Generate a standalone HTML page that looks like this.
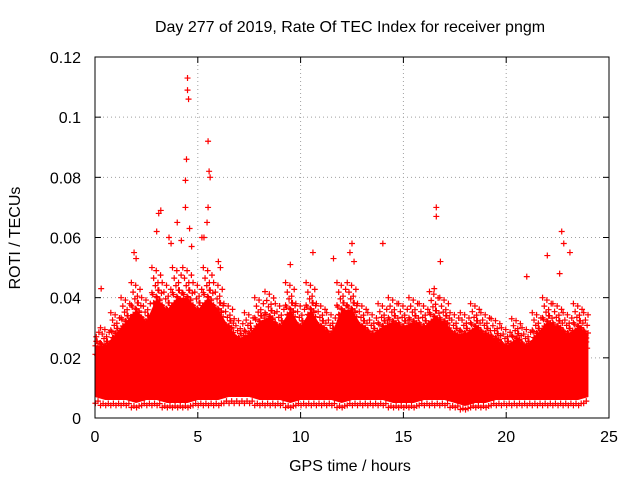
<!DOCTYPE html>
<html><head><meta charset="utf-8"><style>
body{margin:0;background:#fff}
svg{display:block;font-family:"Liberation Sans",sans-serif}
</style></head><body>
<svg id="c" width="640" height="480"></svg>
<script>
const xTicks=[0,5,10,15,20,25];
const yTicks=[0,0.02,0.04,0.06,0.08,0.1,0.12];
const yTickLabels=["0","0.02","0.04","0.06","0.08","0.1","0.12"];
const bandTimes=[0,0.5,1,1.5,2,2.5,3,3.5,4,4.5,5,5.5,6,6.5,7,7.5,8,8.5,9,9.5,10,10.5,11,11.5,12,12.5,13,13.5,14,14.5,15,15.5,16,16.5,17,17.5,18,18.5,19,19.5,20,20.5,21,21.5,22,22.5,23,23.5,24];
const bandUpper=[0.03,0.03,0.035,0.04,0.045,0.04,0.05,0.045,0.05,0.05,0.045,0.05,0.045,0.038,0.033,0.035,0.04,0.042,0.038,0.045,0.038,0.045,0.038,0.035,0.045,0.045,0.038,0.035,0.038,0.04,0.038,0.04,0.038,0.042,0.04,0.035,0.035,0.038,0.035,0.033,0.03,0.033,0.03,0.035,0.04,0.038,0.035,0.038,0.035];
const bandLower=[0.007,0.006,0.006,0.006,0.005,0.006,0.006,0.005,0.005,0.005,0.006,0.006,0.006,0.007,0.007,0.007,0.006,0.006,0.006,0.005,0.006,0.006,0.006,0.006,0.005,0.006,0.006,0.006,0.006,0.005,0.005,0.005,0.006,0.006,0.006,0.005,0.004,0.005,0.005,0.006,0.006,0.006,0.006,0.006,0.006,0.006,0.006,0.006,0.007];
const outT=[4.5,4.5,4.55,4.45,4.4,5.5,5.55,5.5,5.45,3.1,3.2,4.4,4.0,16.6,16.6,16.8,22.7,22.8,14,12.5,12.4,1.9,2.0,9.5,10.6,11.6,22,21,23.1,3.6,3.7,0.3,6.0,5.3,4.6,4.7,5.6,3.0,4.2,5.2,16.5,22.6,12.6,6.1];
const outV=[0.113,0.109,0.106,0.086,0.079,0.092,0.082,0.07,0.065,0.068,0.069,0.07,0.065,0.07,0.067,0.052,0.062,0.058,0.058,0.058,0.055,0.055,0.053,0.051,0.055,0.053,0.054,0.047,0.055,0.06,0.058,0.043,0.052,0.06,0.063,0.057,0.08,0.062,0.059,0.06,0.043,0.048,0.052,0.05];
const jitterPattern=[1,0.82,0.93,0.76,0.88,0.98,0.8,0.9,0.85,0.78,0.95,0.83];
const NS="http://www.w3.org/2000/svg";
const svg=document.getElementById('c');
const L=95,R=609,T=57,B=418;
const X=t=>L+(t/25)*(R-L);
const Y=v=>B-(v/0.12)*(B-T);
function el(tag,a,p){const e=document.createElementNS(NS,tag);for(const k in a)e.setAttribute(k,a[k]);(p||svg).appendChild(e);return e;}
xTicks.forEach((t,i)=>{
 if(i>0&&i<xTicks.length-1){const g=el('line',{x1:X(t),x2:X(t),y1:T,y2:B,stroke:'#a0a0a0','stroke-dasharray':'1,3'});
 
 }
 el('line',{x1:X(t),x2:X(t),y1:B,y2:B-6,stroke:'#000'});el('line',{x1:X(t),x2:X(t),y1:T,y2:T+6,stroke:'#000'});
 const tx=el('text',{x:X(t),y:B+24,'text-anchor':'middle','font-size':16});tx.textContent=t;
 
 
});
yTicks.forEach((v,i)=>{
 if(i>0&&i<yTicks.length-1){const g=el('line',{x1:L,x2:R,y1:Y(v),y2:Y(v),stroke:'#a0a0a0','stroke-dasharray':'1,3'});
 
 }
 el('line',{x1:L,x2:L+6,y1:Y(v),y2:Y(v),stroke:'#000'});el('line',{x1:R,x2:R-6,y1:Y(v),y2:Y(v),stroke:'#000'});
 const tx=el('text',{x:L-14,y:Y(v)+6,'text-anchor':'end','font-size':16});tx.textContent=yTickLabels[i];
 
 
});
let pts=bandTimes.map((t,i)=>X(t)+','+Y(bandUpper[i]*0.8));
for(let i=bandTimes.length-1;i>=0;i--)pts.push(X(bandTimes[i])+','+Y(bandLower[i]));
const band=el('polygon',{points:pts.join(' '),fill:'#ff0000'});


function plus(t,v,name){const g=el('path',{d:`M${X(t)-3},${Y(v)}h6M${X(t)},${Y(v)-3}v6`,stroke:'#ff0000','stroke-width':1.2});
 
 }
bandTimes.forEach((t,i)=>{
 for(let k=0;k<12;k++){const tt=t+(k-5.5)*0.042;if(tt<0||tt>24)continue;
  plus(tt,bandUpper[i]*jitterPattern[k],'roti-point');
  plus(tt,bandUpper[i]*jitterPattern[(k+5)%12]*0.85,'roti-point');
  if(k%3==0)plus(tt,bandLower[i]*(0.7+0.1*(k%2)),'roti-point');}
});
outT.forEach((t,i)=>plus(t,outV[i],'roti-outlier'));
const fr=el('rect',{x:L,y:T,width:R-L,height:B-T,fill:'none',stroke:'#000'});


const ti=el('text',{x:350,y:32,'text-anchor':'middle','font-size':16});ti.textContent='Day 277 of 2019, Rate Of TEC Index for receiver pngm';


const xl=el('text',{x:350,y:471,'text-anchor':'middle','font-size':16});xl.textContent='GPS time / hours';


const yl=el('text',{x:20,y:238,'text-anchor':'middle','font-size':16,transform:'rotate(-90 20 238)'});yl.textContent='ROTI / TECUs';


</script>
</body></html>
